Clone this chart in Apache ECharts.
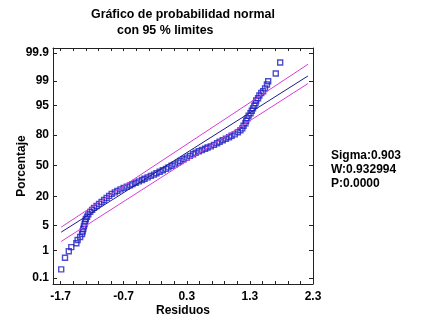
<!DOCTYPE html>
<html>
<head>
<meta charset="utf-8">
<script src="https://cdn.jsdelivr.net/npm/echarts@6/dist/echarts.min.js"></script>
<style>
  html, body { margin: 0; padding: 0; background: #fff; }
  #chart { width: 422px; height: 322px; }
</style>
</head>
<body>
<div id="chart"></div>
<script>
// residuos ordenados y su porcentaje acumulado
const residuos = [
  -1.69, -1.63, -1.57, -1.53, -1.45, -1.43, -1.39, -1.36, -1.35, -1.34,
  -1.33, -1.32, -1.31, -1.30, -1.28, -1.26, -1.23, -1.20, -1.17, -1.13,
  -1.09, -1.05, -1.01, -0.97, -0.93, -0.89, -0.84, -0.80, -0.75, -0.70,
  -0.65, -0.60, -0.56, -0.51, -0.46, -0.41, -0.37, -0.32, -0.27, -0.22,
  -0.18, -0.13, -0.08, -0.03, 0.01, 0.06, 0.11, 0.16, 0.20, 0.25,
  0.30, 0.35, 0.40, 0.44, 0.49, 0.54, 0.59, 0.63, 0.68, 0.73,
  0.78, 0.82, 0.87, 0.92, 0.97, 1.01, 1.06, 1.11, 1.15, 1.18,
  1.20, 1.23, 1.24, 1.26, 1.28, 1.31, 1.33, 1.35, 1.37, 1.39,
  1.40, 1.43, 1.45, 1.48, 1.51, 1.54, 1.57, 1.59, 1.71, 1.78
];
const porcentajes = [
  0.22, 0.57, 0.94, 1.26, 1.65, 2.06, 2.51, 3.03, 3.54, 4.11,
  4.76, 5.47, 6.28, 7.17, 8.03, 9.03, 10.2, 11.2, 12.3, 13.4,
  14.7, 16.0, 17.3, 18.8, 20.3, 21.9, 23.1, 24.4, 25.7, 27.1,
  28.2, 29.4, 30.6, 31.9, 33.3, 34.6, 36.0, 37.4, 38.9, 40.3,
  41.8, 43.4, 44.9, 46.5, 48.1, 49.8, 51.4, 53.3, 55.0, 56.9,
  58.7, 60.6, 62.2, 63.8, 65.3, 66.6, 67.8, 69.1, 70.2, 71.6,
  73.0, 74.4, 75.7, 77.0, 78.2, 79.4, 80.5, 82.0, 83.4, 84.7,
  86.3, 87.8, 89.1, 90.3, 91.5, 92.5, 93.4, 94.2, 95.0, 95.7,
  96.3, 96.8, 97.3, 97.7, 97.95, 98.3, 98.7, 98.98, 99.43, 99.77
];

// recta ajustada y límites del 95 %
const lineaX = [-1.69, 2.22];
const ajusteP = [3.39, 99.31];
const limSupP = [4.56, 99.73];
const limInfP = [1.87, 98.79];

const yTicks = [0.1, 1, 5, 20, 50, 80, 95, 99, 99.9];
const xTicks = [-1.7, -0.7, 0.3, 1.3, 2.3];
const xMinor = [-1.7, -1.5, -1.3, -1.1, -0.9, -0.7, -0.5, -0.3, -0.1, 0.1,
  0.3, 0.5, 0.7, 0.9, 1.1, 1.3, 1.5, 1.7, 1.9, 2.1, 2.3];

// escala de probabilidad normal (inversa de la normal, Acklam)
function probit(pct) {
  const p = pct / 100;
  const a = [-39.69683028665376, 220.9460984245205, -275.9285104469687, 138.3577518672690, -30.66479806614716, 2.506628277459239];
  const b = [-54.47609879822406, 161.5858368580409, -155.6989798598866, 66.80131188771972, -13.28068155288572];
  const c = [-0.007784894002430293, -0.3223964580411365, -2.400758277161838, -2.549732539343734, 4.374664141464968, 2.938163982698783];
  const d = [0.007784695709041462, 0.3224671290700398, 2.445134137142996, 3.754408661907416];
  const pl = 0.02425;
  let q, r;
  if (p < pl) {
    q = Math.sqrt(-2 * Math.log(p));
    return (((((c[0]*q+c[1])*q+c[2])*q+c[3])*q+c[4])*q+c[5]) / ((((d[0]*q+d[1])*q+d[2])*q+d[3])*q+1);
  }
  if (p > 1 - pl) {
    q = Math.sqrt(-2 * Math.log(1 - p));
    return -(((((c[0]*q+c[1])*q+c[2])*q+c[3])*q+c[4])*q+c[5]) / ((((d[0]*q+d[1])*q+d[2])*q+d[3])*q+1);
  }
  q = p - 0.5; r = q * q;
  return (((((a[0]*r+a[1])*r+a[2])*r+a[3])*r+a[4])*r+a[5])*q / (((((b[0]*r+b[1])*r+b[2])*r+b[3])*r+b[4])*r+1);
}

const yTickZ = yTicks.map(probit);
const pares = (xs, ps) => xs.map((x, i) => [x, probit(ps[i])]);

const font = { fontFamily: 'Liberation Sans, Arial, sans-serif', fontWeight: 'bold', fontSize: 12, color: '#000' };
const frame = { show: true, onZero: false, lineStyle: { color: '#222', width: 1 } };

const chart = echarts.init(document.getElementById('chart'));
chart.setOption({
  animation: false,
  backgroundColor: '#fff',
  title: [
    { text: 'Gráfico de probabilidad normal', left: 86, top: 4, textStyle: { ...font, fontSize: 12.4 } },
    { text: 'con 95 % limites', left: 112, top: 20, textStyle: { ...font, fontSize: 12.4 } }
  ],
  graphic: [{
    type: 'text', left: 331, top: 149,
    style: { text: 'Sigma:0.903\nW:0.932994\nP:0.0000', font: 'bold 12px "Liberation Sans", Arial, sans-serif', fill: '#000', lineHeight: 14 }
  }],
  grid: { left: 53, top: 48, width: 260, height: 236, outerBoundsMode: 'none' },
  xAxis: [{
    type: 'value', min: -1.82, max: 2.3, position: 'bottom',
    name: 'Residuos', nameLocation: 'middle', nameGap: 21, nameMoveOverlap: false, nameTextStyle: { ...font },
    axisLine: frame,
    axisTick: { show: true, inside: true, length: 3, customValues: xMinor, lineStyle: { color: '#222' } },
    axisLabel: { ...font, margin: 7, customValues: xTicks, formatter: v => v.toFixed(1) },
    splitLine: { show: false }
  }, {
    type: 'value', min: -1.82, max: 2.3, position: 'top',
    axisLine: frame,
    axisTick: { show: true, inside: true, length: 3, customValues: xMinor, lineStyle: { color: '#222' } },
    axisLabel: { show: false },
    splitLine: { show: false }
  }],
  yAxis: [{
    type: 'value', min: -3.25, max: 3.23, position: 'left',
    name: 'Porcentaje', nameLocation: 'middle', nameGap: 25, nameMoveOverlap: false, nameTextStyle: { ...font },
    axisLine: frame,
    axisTick: { show: true, inside: true, length: 4, customValues: yTickZ, lineStyle: { color: '#222' } },
    axisLabel: {
      ...font, margin: 4, customValues: yTickZ,
      formatter: v => {
        let k = 0;
        yTickZ.forEach((z, i) => { if (Math.abs(z - v) < Math.abs(yTickZ[k] - v)) k = i; });
        return String(yTicks[k]);
      }
    },
    splitLine: { show: false }
  }, {
    type: 'value', min: -3.25, max: 3.23, position: 'right',
    axisLine: frame,
    axisTick: { show: true, inside: true, length: 4, customValues: yTickZ, lineStyle: { color: '#222' } },
    axisLabel: { show: false },
    splitLine: { show: false }
  }],
  series: [
    {
      type: 'line', data: pares(lineaX, limSupP), showSymbol: false, silent: true,
      lineStyle: { color: '#d83cd8', width: 1 }
    },
    {
      type: 'line', data: pares(lineaX, limInfP), showSymbol: false, silent: true,
      lineStyle: { color: '#d83cd8', width: 1 }
    },
    {
      type: 'line', data: pares(lineaX, ajusteP), showSymbol: false, silent: true,
      lineStyle: { color: '#1c1c88', width: 1 }
    },
    {
      type: 'scatter', data: pares(residuos, porcentajes),
      symbol: 'rect', symbolSize: 5,
      itemStyle: { color: 'rgba(0,0,0,0)', borderColor: '#2020c4', borderWidth: 1.4 }
    }
  ]
});
</script>
</body>
</html>
